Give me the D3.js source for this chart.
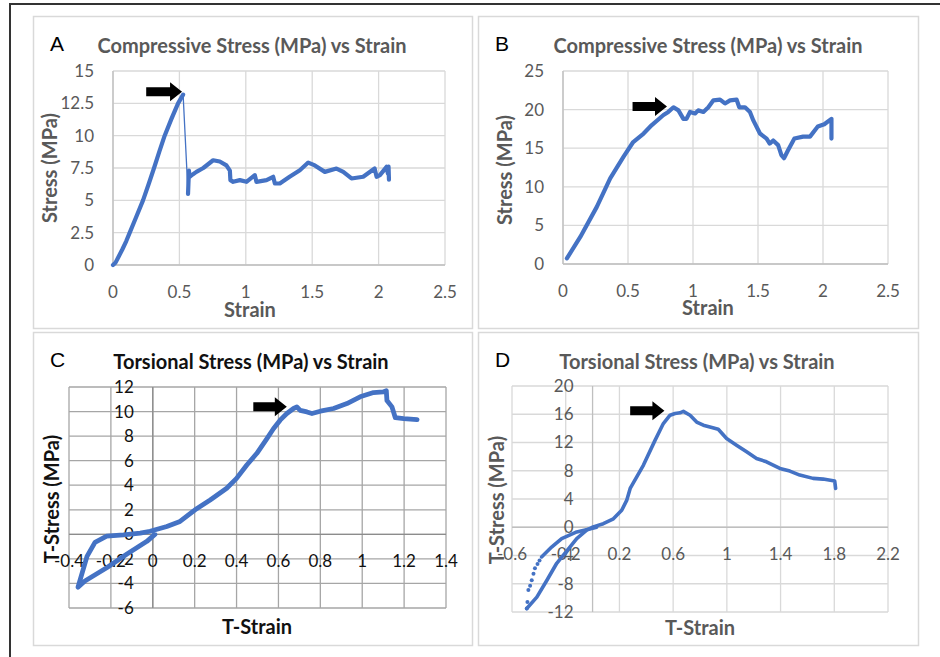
<!DOCTYPE html>
<html>
<head>
<meta charset="utf-8">
<script src="https://cdn.jsdelivr.net/npm/d3@7"></script>
<style>
  body { margin: 0; background: #fff; }
  svg { display: block; font-family: Lato, "Open Sans", sans-serif; }
</style>
</head>
<body>
<div id="chart"></div>
<script>
// --- data ---
const aTicksX = [0, 0.5, 1, 1.5, 2, 2.5];
const aTicksY = [0, 2.5, 5, 7.5, 10, 12.5, 15];
const aRise = [[0,0],[0.02,0.2],[0.04,0.6],[0.07,1.2],[0.1,1.85],[0.126,2.5],[0.17,3.6],[0.226,5],[0.27,6.3],
  [0.309,7.5],[0.35,8.8],[0.389,10],[0.44,11.3],[0.49,12.5],[0.528,13.17]];
const aAfter = [[0.565,5.5],[0.568,6.3],[0.572,7.3],[0.575,6.8],[0.6,7.0],[0.628,7.2],[0.68,7.5],[0.754,8.1],[0.804,8.0],
  [0.854,7.7],[0.88,7.3],[0.884,6.56],[0.905,6.43],[0.955,6.56],[1.005,6.43],[1.068,6.95],[1.08,6.43],[1.156,6.56],
  [1.206,6.82],[1.219,6.3],[1.256,6.3],[1.33,6.82],[1.407,7.33],[1.47,7.92],[1.52,7.7],[1.595,7.2],[1.683,7.46],
  [1.734,7.2],[1.796,6.69],[1.884,6.82],[1.97,7.46],[1.985,6.82],[2.01,6.95],[2.06,7.59],[2.07,7.07],[2.075,7.6],[2.078,6.6]];

const bTicksX = [0, 0.5, 1, 1.5, 2, 2.5];
const bTicksY = [0, 5, 10, 15, 20, 25];
const bCurve = [[0.03,0.73],[0.133,3.5],[0.26,7.4],[0.363,11.1],[0.466,13.9],[0.54,15.8],[0.62,16.9],[0.683,18.0],
  [0.773,19.3],[0.81,19.7],[0.85,20.3],[0.888,19.9],[0.926,18.8],[0.95,18.8],[0.977,19.7],[1.016,19.5],[1.04,19.9],
  [1.08,19.7],[1.118,20.3],[1.157,21.2],[1.208,21.3],[1.246,20.8],[1.285,21.2],[1.335,21.3],[1.356,20.3],[1.4,20.3],
  [1.438,19.7],[1.464,18.6],[1.515,16.9],[1.566,16.25],[1.59,15.6],[1.617,16.0],[1.655,15.4],[1.68,14.1],[1.7,13.7],
  [1.73,14.7],[1.78,16.25],[1.847,16.5],[1.9,16.5],[1.96,17.8],[2.01,18.1],[2.065,18.8],[2.065,16.25]];

const cTicksX = [-0.4, -0.2, 0, 0.2, 0.4, 0.6, 0.8, 1, 1.2, 1.4];
const cTicksY = [-6, -4, -2, 0, 2, 4, 6, 8, 10, 12];
const cCurve = [[0.01,0],[-0.028,-0.57],[-0.123,-1.6],[-0.218,-2.7],[-0.324,-3.8],[-0.357,-4.3],[-0.314,-1.8],
  [-0.276,-0.65],[-0.22,-0.15],[-0.14,-0.05],[-0.06,0.1],[-0.013,0.25],[0.067,0.64],[0.13,1.05],[0.202,2.0],
  [0.274,2.8],[0.353,3.75],[0.4,4.56],[0.449,5.65],[0.497,6.6],[0.545,7.8],[0.576,8.6],[0.608,9.3],[0.64,9.84],
  [0.672,10.25],[0.688,10.38],[0.704,10.1],[0.736,9.97],[0.76,9.84],[0.8,10.03],[0.863,10.25],[0.927,10.65],
  [0.99,11.2],[1.054,11.55],[1.1,11.6],[1.115,11.7],[1.118,10.9],[1.142,10.38],[1.158,9.5],[1.198,9.43],[1.262,9.35]];

const dTicksX = [-0.6, -0.2, 0.2, 0.6, 1, 1.4, 1.8, 2.2];
const dTicksY = [-12, -8, -4, 0, 4, 8, 12, 16, 20];
const dDots = [[-0.49,-11.5],[-0.485,-10.6],[-0.478,-8.9],[-0.465,-8.3],[-0.453,-7.5],[-0.44,-6.6],[-0.429,-5.8],
  [-0.41,-5.2],[-0.395,-4.7]];
const dUpper = [[-0.38,-4.2],[-0.305,-2.8],[-0.23,-1.6],[-0.118,-0.66],[-0.007,-0.19],[0.03,0]];
const dCurve = [[-0.49,-11.5],[-0.415,-9.9],[-0.34,-7.5],[-0.267,-5.1],[-0.19,-3.3],[-0.118,-1.6],[-0.044,-0.42],
  [0.005,0.05],[0.08,0.5],[0.155,1.2],[0.217,2.4],[0.254,3.8],[0.28,5.5],[0.379,8.8],[0.465,12.3],[0.527,14.68],
  [0.577,15.86],[0.614,16.1],[0.651,16.2],[0.676,16.4],[0.726,15.86],[0.775,14.9],[0.825,14.45],[0.874,14.2],
  [0.936,13.88],[0.998,12.56],[1.072,11.62],[1.147,10.68],[1.221,9.74],[1.295,9.27],[1.395,8.33],[1.469,7.95],
  [1.543,7.39],[1.642,6.92],[1.717,6.82],[1.803,6.54],[1.81,5.5]];

// arrows: [tailX, tipX, y] in data units
const arrowA = [0.25, 0.52, 13.4];
const arrowB = [0.535, 0.8, 20.4];
const arrowC = [0.48, 0.64, 10.4];
const arrowD = [0.28, 0.535, 16.5];

const blue = "#4472C4";
const W = 940, H = 657;

const svg = d3.select("#chart").append("svg")
    .attr("width", W)
    .attr("height", H);

// outer figure border (top + left only visible)
svg.append("path")
    .attr("d", "M10,657 L10,4 L940,4")
    .attr("fill", "none")
    .attr("stroke", "#333")
    .attr("stroke-width", 2);

const panels = [
  { letter: "A", frame: [33, 16, 472, 328], x: [0, 2.5], y: [0, 15], px: [113, 445], py: [265, 71],
    ticksX: aTicksX, ticksY: aTicksY, title: "Compressive Stress (MPa) vs Strain", titleX: 252, titleY: 46,
    xTitle: "Strain", xTitlePos: [250, 310], yTitle: "Stress (MPa)", yTitlePos: [50, 168],
    grid: "#d9d9d9", ink: "#595959", titleInk: "#595959", arrow: arrowA,
    lines: [{ pts: aRise.concat(aAfter), w: 1.3 }, { pts: aRise, w: 4.2 }, { pts: aAfter, w: 4.2 }] },
  { letter: "B", frame: [478, 16, 918, 328], x: [0, 2.5], y: [0, 25], px: [563, 888], py: [264, 71],
    ticksX: bTicksX, ticksY: bTicksY, title: "Compressive Stress (MPa) vs Strain", titleX: 708, titleY: 46,
    xTitle: "Strain", xTitlePos: [708, 308], yTitle: "Stress (MPa)", yTitlePos: [505, 170],
    grid: "#d9d9d9", ink: "#595959", titleInk: "#595959", arrow: arrowB,
    lines: [{ pts: bCurve, w: 4.2 }] },
  { letter: "C", frame: [33, 332, 472, 645], x: [-0.4, 1.4], y: [-6, 12], px: [69, 446], py: [608, 387],
    ticksX: cTicksX, ticksY: cTicksY, title: "Torsional Stress (MPa) vs Strain", titleX: 251, titleY: 362,
    xTitle: "T-Strain", xTitlePos: [257, 627], yTitle: "T-Stress (MPa)", yTitlePos: [52, 499],
    grid: "#a6a6a6", ink: "#111", titleInk: "#111", arrow: arrowC,
    lines: [{ pts: cCurve, w: 4.8 }] },
  { letter: "D", frame: [478, 332, 918, 645], x: [-0.6, 2.2], y: [-12, 20], px: [512, 888], py: [612, 386],
    ticksX: dTicksX, ticksY: dTicksY, title: "Torsional Stress (MPa) vs Strain", titleX: 697, titleY: 362,
    xTitle: "T-Strain", xTitlePos: [700, 628], yTitle: "T-Stress (MPa)", yTitlePos: [497, 500],
    grid: "#d9d9d9", ink: "#595959", titleInk: "#595959", arrow: arrowD,
    lines: [{ pts: dCurve, w: 3.6 }, { pts: dUpper, w: 3.6 }], dots: dDots }
];

panels.forEach(drawPanel);

function drawPanel(p) {
  const g = svg.append("g");
  const x = d3.scaleLinear().domain(p.x).range(p.px);
  const y = d3.scaleLinear().domain(p.y).range(p.py);

  // chart frame
  g.append("rect")
      .attr("x", p.frame[0] + 0.5).attr("y", p.frame[1] + 0.5)
      .attr("width", p.frame[2] - p.frame[0]).attr("height", p.frame[3] - p.frame[1])
      .attr("fill", "#fff").attr("stroke", "#d9d9d9").attr("stroke-width", 1.5);

  // gridlines
  g.append("g").selectAll("line.v")
    .data(p.ticksX)
    .join("line")
      .attr("x1", (d) => x(d)).attr("x2", (d) => x(d))
      .attr("y1", p.py[0]).attr("y2", p.py[1])
      .attr("stroke", p.grid).attr("stroke-width", 1.3);
  g.append("g").selectAll("line.h")
    .data(p.ticksY)
    .join("line")
      .attr("x1", p.px[0]).attr("x2", p.px[1])
      .attr("y1", (d) => y(d)).attr("y2", (d) => y(d))
      .attr("stroke", p.grid).attr("stroke-width", 1.3);

  // axes at zero
  const x0 = x(0), y0 = y(0);
  g.append("line")
      .attr("x1", x0).attr("x2", x0).attr("y1", p.py[0]).attr("y2", p.py[1])
      .attr("stroke", p.letter === "C" ? "#8c8c8c" : "#bfbfbf").attr("stroke-width", 1.3);
  g.append("line")
      .attr("x1", p.px[0]).attr("x2", p.px[1]).attr("y1", y0).attr("y2", y0)
      .attr("stroke", p.letter === "C" ? "#8c8c8c" : "#bfbfbf").attr("stroke-width", 1.3);

  // tick labels
  g.append("g").selectAll("text")
    .data(p.ticksY)
    .join("text")
      .attr("x", x0 - 19)
      .attr("y", (d) => y(d))
      .attr("dy", "0.35em")
      .attr("text-anchor", "end")
      .attr("font-size", 17)
      .attr("fill", p.ink)
      .text((d) => String(d));
  g.append("g").selectAll("text")
    .data(p.ticksX)
    .join("text")
      .attr("x", (d) => x(d))
      .attr("y", y0 + 27)
      .attr("dy", "0.35em")
      .attr("text-anchor", "middle")
      .attr("font-size", 17)
      .attr("fill", p.ink)
      .text((d) => String(d));

  // titles
  g.append("text")
      .attr("x", p.titleX).attr("y", p.titleY).attr("dy", "0.35em")
      .attr("text-anchor", "middle")
      .attr("font-size", 20).attr("font-weight", "bold")
      .attr("fill", p.titleInk)
      .text(p.title);
  g.append("text")
      .attr("x", p.xTitlePos[0]).attr("y", p.xTitlePos[1]).attr("dy", "0.35em")
      .attr("text-anchor", "middle")
      .attr("font-size", 20).attr("font-weight", "bold")
      .attr("fill", p.titleInk)
      .text(p.xTitle);
  g.append("text")
      .attr("transform", "translate(" + p.yTitlePos[0] + "," + p.yTitlePos[1] + ") rotate(-90)")
      .attr("dy", "0.35em")
      .attr("text-anchor", "middle")
      .attr("font-size", 20).attr("font-weight", "bold")
      .attr("fill", p.titleInk)
      .text(p.yTitle);
  g.append("text")
      .attr("x", p.frame[0] + 17).attr("y", p.titleY - 2).attr("dy", "0.35em")
      .attr("font-family", "'Liberation Sans', Arial, sans-serif")
      .attr("font-size", 21)
      .attr("fill", "#000")
      .text(p.letter);

  // data
  const line = d3.line().x((d) => x(d[0])).y((d) => y(d[1]));
  p.lines.forEach((l) => {
    g.append("path")
        .attr("d", line(l.pts))
        .attr("fill", "none")
        .attr("stroke", blue)
        .attr("stroke-width", l.w)
        .attr("stroke-linejoin", "round")
        .attr("stroke-linecap", "round");
  });
  if (p.dots) {
    g.append("g").selectAll("circle")
      .data(p.dots)
      .join("circle")
        .attr("cx", (d) => x(d[0])).attr("cy", (d) => y(d[1]))
        .attr("r", 2)
        .attr("fill", blue);
  }

  // arrow pointing at the peak
  const ax0 = x(p.arrow[0]), ax1 = x(p.arrow[1]), ay = y(p.arrow[2]);
  const head = 12;
  g.append("path")
      .attr("d", `M${ax0},${ay - 4.5} L${ax1 - head},${ay - 4.5} L${ax1 - head},${ay - 9.5}
                  L${ax1},${ay} L${ax1 - head},${ay + 9.5} L${ax1 - head},${ay + 4.5} L${ax0},${ay + 4.5} Z`)
      .attr("fill", "#000");
}
</script>
</body>
</html>
